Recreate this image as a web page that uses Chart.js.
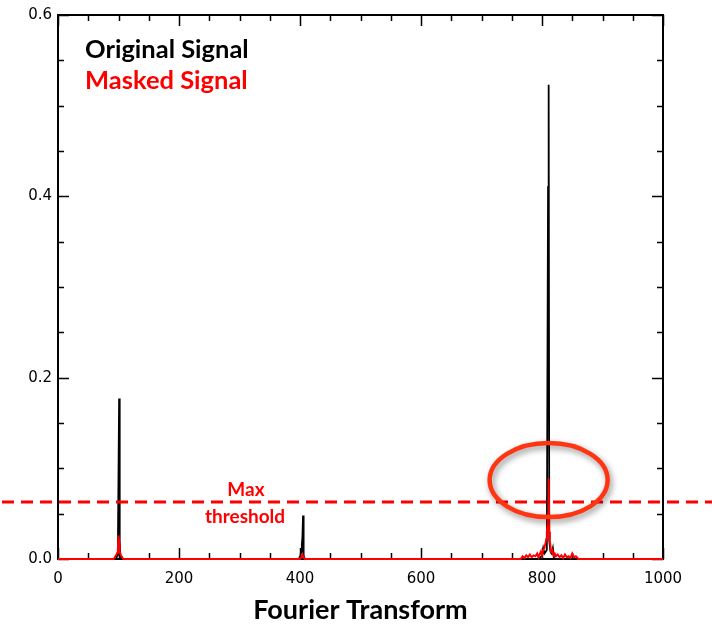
<!DOCTYPE html>
<html>
<head>
<meta charset="utf-8">
<script src="https://cdn.jsdelivr.net/npm/chart.js@4/dist/chart.umd.min.js"></script>
<style>
  html, body { margin: 0; padding: 0; background: #fff; }
</style>
</head>
<body>
<canvas id="c" width="712" height="626"></canvas>
<script>
// Spectrum of the original signal: frequency bins and amplitudes (zero elsewhere)
const origFreq = [0, 96, 98, 99, 100, 101, 102, 103, 105,
  398, 400, 401, 402, 403, 404, 405, 406, 408,
  795, 800, 802, 804, 806, 808, 810, 811, 812, 814, 816, 818, 820, 1000];
const origAmp = [0, 0, 0.004, 0.012, 0.093, 0.177, 0.02, 0.004, 0,
  0, 0.003, 0.005, 0.008, 0.016, 0.024, 0.048, 0.004, 0,
  0, 0.004, 0.012, 0.006, 0.008, 0.01, 0.41, 0.523, 0.02, 0.008, 0.006, 0.012, 0, 0];

// Spectrum after masking
const maskFreq = [0, 92, 94, 96, 98, 99, 100, 101, 102, 104, 106, 108,
  400, 402, 403, 404, 405, 406, 408,
  765, 768, 771, 774, 777, 780, 783, 786, 789, 792, 794, 796, 798, 800, 802, 804, 806, 807, 808, 809, 810,
  811, 812, 813, 814, 815, 817, 819, 821, 823, 826, 829, 832, 835, 838, 841, 844, 847, 850, 853, 856, 860, 1000];
const maskAmp = [0, 0, 0.002, 0.004, 0.007, 0.012, 0.026, 0.018, 0.008, 0.004, 0.002, 0,
  0, 0.002, 0.004, 0.005, 0.003, 0.002, 0,
  0, 0.003, 0.001, 0.004, 0.002, 0.005, 0.002, 0.004, 0.003, 0.006, 0.002, 0.005, 0.008, 0.004, 0.01, 0.012, 0.018, 0.022, 0.03, 0.036, 0.05,
  0.089, 0.03, 0.02, 0.014, 0.008, 0.01, 0.004, 0.006, 0.003, 0.005, 0.002, 0.004, 0.001, 0.005, 0.002, 0.003, 0.001, 0.006, 0.002, 0.003, 0, 0];

// Axis ranges and tick spacing
const xRange = [0, 1000];
const xMajorStep = 200;
const xMinorStep = 50;
const yRange = [0, 0.6];
const yMajorStep = 0.2;
const yMinorStep = 0.05;

// Masking threshold and the highlighted bin (frequency, amplitude)
const threshold = 0.063;
const highlight = [811, 0.087];

const toPoints = (fs, as) => fs.map((f, i) => ({ x: f, y: as[i] }));

// Box around the plot with inward major/minor ticks on all four sides
const framePlugin = {
  id: 'frame',
  beforeDatasetsDraw(chart) {
    const { ctx, chartArea: a, scales: { x, y } } = chart;
    ctx.save();
    ctx.strokeStyle = '#000';
    ctx.lineWidth = 2;
    ctx.strokeRect(a.left, a.top, a.right - a.left, a.bottom - a.top);
    ctx.lineWidth = 1.5;
    ctx.beginPath();
    const nx = Math.round((xRange[1] - xRange[0]) / xMinorStep);
    const perX = Math.round(xMajorStep / xMinorStep);
    for (let i = 0; i <= nx; i++) {
      const px = Math.round(x.getPixelForValue(xRange[0] + i * xMinorStep)) + 0.5;
      const len = i % perX === 0 ? 11 : 6;
      ctx.moveTo(px, a.bottom); ctx.lineTo(px, a.bottom - len);
      ctx.moveTo(px, a.top); ctx.lineTo(px, a.top + len);
    }
    const ny = Math.round((yRange[1] - yRange[0]) / yMinorStep);
    const perY = Math.round(yMajorStep / yMinorStep);
    for (let i = 0; i <= ny; i++) {
      const py = Math.round(y.getPixelForValue(yRange[0] + i * yMinorStep)) + 0.5;
      const len = i % perY === 0 ? 11 : 6;
      ctx.moveTo(a.left, py); ctx.lineTo(a.left + len, py);
      ctx.moveTo(a.right, py); ctx.lineTo(a.right - len, py);
    }
    ctx.stroke();
    ctx.restore();
  }
};

// Threshold line, its label, the legend text and the circled bin
const notesPlugin = {
  id: 'notes',
  afterDatasetsDraw(chart) {
    const { ctx, chartArea: a, scales: { x, y } } = chart;
    ctx.save();

    // dashed threshold across the full width
    const ty = y.getPixelForValue(threshold);
    ctx.strokeStyle = '#ff0000';
    ctx.lineWidth = 3;
    ctx.setLineDash([12, 7]);
    ctx.beginPath();
    ctx.moveTo(2, ty); ctx.lineTo(chart.width, ty);
    ctx.stroke();
    ctx.setLineDash([]);

    // threshold label
    ctx.fillStyle = '#ff0000';
    ctx.textAlign = 'center';
    ctx.textBaseline = 'middle';
    ctx.font = 'bold 19px Lato';
    ctx.fillText('Max', a.left + 188, ty - 12);
    ctx.fillText('threshold', a.left + 187, ty + 15);

    // legend text in the series colours
    ctx.textAlign = 'left';
    ctx.font = 'bold 25.5px Lato';
    const ds = chart.data.datasets;
    const orig = ds.find(d => d.key === 'orig');
    const mask = ds.find(d => d.key === 'mask');
    ctx.fillStyle = orig.borderColor;
    ctx.fillText(orig.label, a.left + 27, a.top + 35);
    ctx.fillStyle = mask.borderColor;
    ctx.fillText(mask.label, a.left + 27, a.top + 66);

    // ellipse around the remaining peak
    const cx = x.getPixelForValue(highlight[0]);
    const cy = y.getPixelForValue(highlight[1]);
    ctx.shadowColor = 'rgba(0,0,0,0.45)';
    ctx.shadowBlur = 6;
    ctx.shadowOffsetX = 2;
    ctx.shadowOffsetY = 3;
    ctx.strokeStyle = '#ff3512';
    ctx.lineWidth = 4.5;
    ctx.beginPath();
    ctx.ellipse(cx, cy, 59, 37, 0, 0, Math.PI * 2);
    ctx.stroke();
    ctx.restore();
  }
};

const tickFont = { family: 'DejaVu Sans', size: 15 };

new Chart(document.getElementById('c'), {
  type: 'line',
  data: {
    datasets: [
      {
        key: 'mask',
        label: 'Masked Signal',
        data: toPoints(maskFreq, maskAmp),
        borderColor: '#ff0000',
        borderWidth: 2,
        pointRadius: 0,
        tension: 0,
        clip: false,
        order: 0
      },
      {
        key: 'orig',
        label: 'Original Signal',
        data: toPoints(origFreq, origAmp),
        borderColor: '#000000',
        borderWidth: 1.8,
        pointRadius: 0,
        tension: 0,
        clip: false,
        order: 1
      }
    ]
  },
  options: {
    responsive: false,
    animation: false,
    events: [],
    layout: { padding: { top: 9, right: 49, left: 0, bottom: 0 } },
    plugins: { legend: { display: false }, tooltip: { enabled: false } },
    scales: {
      x: {
        type: 'linear',
        min: xRange[0],
        max: xRange[1],
        border: { display: false },
        grid: { display: false, drawTicks: false },
        ticks: {
          stepSize: xMajorStep,
          color: '#000',
          font: tickFont,
          padding: 11,
          maxRotation: 0,
          autoSkip: false,
          callback: v => String(v)
        },
        title: {
          display: true,
          text: 'Fourier Transform',
          color: '#000',
          font: { family: 'Lato', size: 27, weight: 'bold' },
          padding: { top: 0, bottom: 0 }
        },
        afterFit(s) { s.height = 67; }
      },
      y: {
        min: yRange[0],
        max: yRange[1],
        border: { display: false },
        grid: { display: false, drawTicks: false },
        ticks: {
          stepSize: yMajorStep,
          color: '#000',
          font: tickFont,
          padding: 6,
          callback: v => Number(v).toFixed(1)
        },
        afterFit(s) { s.width = 58; }
      }
    }
  },
  plugins: [framePlugin, notesPlugin]
});
</script>
</body>
</html>
